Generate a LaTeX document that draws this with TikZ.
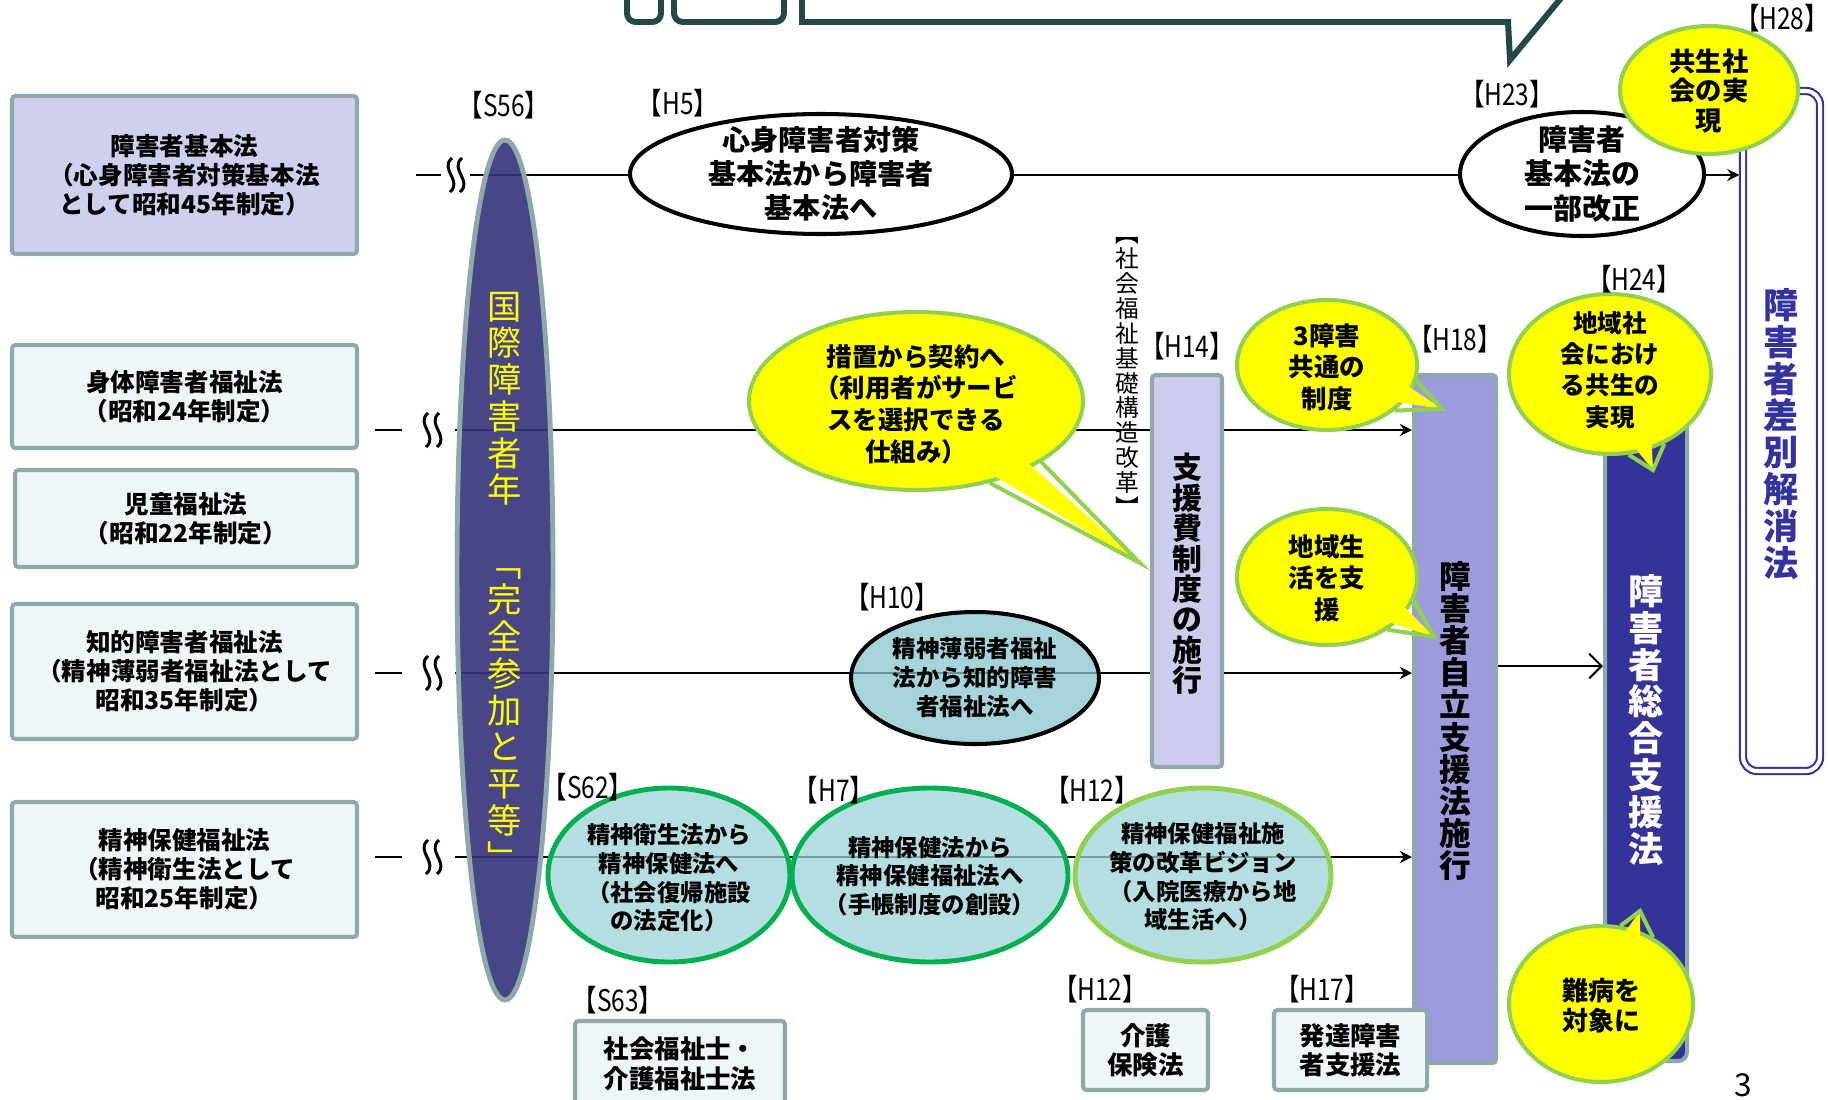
\documentclass[tikz,border=0pt]{standalone}
\usepackage{fontspec}
\setmainfont{Noto Sans CJK JP}
\newfontfamily\lblfont{Noto Sans CJK JP}[FakeStretch=0.82]
\usetikzlibrary{arrows.meta,shapes.geometric,calc}
\pgfdeclarelayer{bg}
\pgfsetlayers{bg,main}
\definecolor{bordgray}{HTML}{8FA9AA}
\definecolor{lavfill}{HTML}{D0D0EE}
\definecolor{paleblue}{HTML}{EEF6F8}
\definecolor{iypurple}{HTML}{343279}
\definecolor{hfourteen}{HTML}{CCCCEC}
\definecolor{heighteen}{HTML}{9C9CDC}
\definecolor{htwentyfour}{HTML}{333399}
\definecolor{tealfill}{HTML}{87C7CB}
\definecolor{lteal}{HTML}{9CD3D6}
\definecolor{dkgreen}{HTML}{00B050}
\definecolor{ltgreen}{HTML}{92D050}
\definecolor{bubyellow}{HTML}{FFFF00}
\definecolor{navyline}{HTML}{3333A0}
\definecolor{topteal}{HTML}{244848}
\newcommand\fsz[2]{\fontsize{#1pt}{#2pt}\selectfont}
\newcommand\wavemark[2]{\draw[line width=1.7pt] ({#1+1},{#2-17}) .. controls ({#1-12},{#2-6}) and ({#1+12},{#2+6}) .. ({#1-1},{#2+17});}
\newcommand\bubtail[4]{%
  \fill[bubyellow] ($(#1.#2)!0.25!(#1.center)$) -- (#4) -- ($(#1.#3)!0.25!(#1.center)$) -- cycle;
  \draw[tailline] (#1.#2) -- (#4) -- (#1.#3);}
\begin{document}
\begin{tikzpicture}[x=0.02cm,y=-0.02cm,
  wh/.style 2 args={minimum width={#1*0.02cm}, minimum height={#2*0.02cm}},
  lawbox/.style={draw=bordgray, line width=2.3pt, rounded corners=2pt, inner sep=0pt},
  txt/.style={align=center, inner sep=0pt, font=\bfseries\fsz{14}{16.5}},
  vt/.style={align=center, inner sep=0pt},
  oval/.style={ellipse, inner sep=0pt},
  bubble/.style={ellipse, inner sep=0pt, fill=bubyellow, draw=ltgreen, line width=2.3pt},
  lbl/.style={inner sep=0pt, font=\lblfont\fsz{17}{17}},
  conn/.style={line width=1.2pt, -{Stealth[length=7pt,width=7pt,inset=2.5pt]}},
  plain/.style={line width=1.2pt},
  tailline/.style={draw=ltgreen, line width=2.3pt, line join=miter},
  topshape/.style={draw=topteal, line width=3.4pt}
]
\useasboundingbox (0,0) rectangle (1828,1099);
\clip (0,0) rectangle (1828,1099);
\begin{pgfonlayer}{bg}
\fill[white] (0,0) rectangle (1828,1099);
\end{pgfonlayer}

% top partial shapes
\draw[topshape, rounded corners=5pt] (627,-40) rectangle (661,22);
\draw[topshape, rounded corners=5pt] (674,-40) rectangle (784,22);
\draw[topshape, line join=miter] (802,-40) -- (802,22) -- (1508,22) -- (1510,60) -- (1580,-25);

% left law boxes
\node[lawbox, fill=lavfill, wh={345}{158}, txt] (law1) at (184.5,175) {障害者基本法\\（心身障害者対策基本法\\として昭和45年制定）};
\node[lawbox, fill=paleblue, wh={345}{103}, txt] (law2) at (184.5,396.5) {身体障害者福祉法\\（昭和24年制定）};
\node[lawbox, fill=paleblue, wh={342}{97}, txt] (law3) at (186,518.5) {児童福祉法\\（昭和22年制定）};
\node[lawbox, fill=paleblue, wh={345}{135}, txt] (law4) at (184.5,671.5) {知的障害者福祉法\\（精神薄弱者福祉法として\\昭和35年制定）};
\node[lawbox, fill=paleblue, wh={345}{135}, txt] (law5) at (184.5,869.5) {精神保健福祉法\\（精神衛生法として\\昭和25年制定）};

% International year ellipse
\node[oval, draw=bordgray, line width=2.8pt, fill=iypurple, fill opacity=0.9, wh={96}{860}] (iyd) at (505,570) {};
\node[vt, text=bubyellow, font=\fsz{19.5}{20.9}] at (505,581) {国\\際\\障\\害\\者\\年\\\mbox{}\\﹁\\完\\全\\参\\加\\と\\平\\等\\﹂};

% H5 and H23 ellipses
\node[oval, draw=black, line width=2.3pt, fill=white, wh={382}{120}] (h5) at (821,174) {};
\node[txt, font=\bfseries\fsz{16}{19.3}] at (h5) {心身障害者対策\\基本法から障害者\\基本法へ};
\node[oval, draw=black, line width=2.3pt, fill=white, wh={244}{124}] (h23) at (1582,174) {};
\node[txt, font=\bfseries\fsz{16.5}{19.5}] at (h23) {障害者\\基本法の\\一部改正};

% discrimination law double box
\node[draw=navyline, double=white, double distance=2.3pt, line width=1.2pt, rounded corners=8pt, wh={77}{680}, inner sep=0pt] (dbl) at (1781.5,431) {};
\node[vt, text=navyline, font=\bfseries\fsz{20}{21}] at (1781,434) {障\\害\\者\\差\\別\\解\\消\\法};

% H14 box and vertical label
\node[lawbox, fill=hfourteen, wh={70}{392}] (h14) at (1187,571) {};
\node[vt, font=\bfseries\fsz{17}{17.3}] at (1187,574) {支\\援\\費\\制\\度\\の\\施\\行};
\node[vt, font=\fsz{13.5}{14.2}] (reform) at (1127,377) {︻\\社\\会\\福\\祉\\基\\礎\\構\\造\\改\\革\\︼};

% H18 and H24 boxes
\node[lawbox, fill=heighteen, wh={82}{688}] (h18) at (1455,719) {};
\node[vt, font=\bfseries\fsz{18}{18.3}] at (1455,721) {障\\害\\者\\自\\立\\支\\援\\法\\施\\行};
\node[lawbox, rounded corners=5pt, fill=htwentyfour, wh={82}{661}] (h24) at (1646,730.5) {};
\node[vt, text=white, font=\bfseries\fsz{20}{21}] at (1646,720) {障\\害\\者\\総\\合\\支\\援\\法};

% timeline ellipses
\node[oval, draw=black, line width=2.3pt, fill=tealfill, fill opacity=0.75, wh={248}{132}] (h10) at (975,678) {};
\node[txt, font=\bfseries\fsz{13.4}{16.5}] at (h10) {精神薄弱者福祉\\法から知的障害\\者福祉法へ};
\node[oval, draw=dkgreen, line width=2.8pt, fill=lteal, fill opacity=0.75, wh={242}{174}] (s62) at (669,875) {};
\node[txt, font=\bfseries\fsz{13.3}{16.3}] at (669,878) {精神衛生法から\\精神保健法へ\\（社会復帰施設\\の法定化）};
\node[oval, draw=dkgreen, line width=2.8pt, fill=lteal, fill opacity=0.75, wh={276}{174}] (h7) at (930,875) {};
\node[txt, font=\bfseries\fsz{13.3}{16.3}] at (930,876) {精神保健法から\\精神保健福祉法へ\\（手帳制度の創設）};
\node[oval, draw=ltgreen, line width=2.8pt, fill=lteal, fill opacity=0.75, wh={256}{174}] (h12) at (1203,875) {};
\node[txt, font=\bfseries\fsz{13.3}{16.3}] at (1203,877) {精神保健福祉施\\策の改革ビジョン\\（入院医療から地\\域生活へ）};

% bottom boxes
\node[lawbox, fill=paleblue, wh={210}{100}] (s63) at (680,1071) {};
\node[txt, font=\bfseries\fsz{14.5}{17}] at (680,1064) {社会福祉士・\\介護福祉士法};
\node[lawbox, fill=paleblue, wh={125}{80}, txt, font=\bfseries\fsz{14.5}{16.5}] (h12b) at (1145.5,1050) {介護\\保険法};
\node[lawbox, fill=paleblue, wh={153}{80}, txt, font=\bfseries\fsz{14.5}{16.5}] (h17) at (1350.5,1050) {発達障害\\者支援法};

% speech bubbles
\coordinate (t1) at (1140,563);
\coordinate (t2) at (1442,409);
\coordinate (t3) at (1434,637);
\coordinate (t4) at (1653,470);
\coordinate (t5) at (1640,911);
\node[bubble, wh={334}{178}] (c1) at (916,401) {};
\bubtail{c1}{-26}{-48}{t1}
\node[txt, font=\bfseries\fsz{14.5}{18}] at (916,404) {措置から契約へ\\（利用者がサービ\\スを選択できる\\仕組み）};
\node[bubble, wh={180}{130}] (c2) at (1327,365) {};
\bubtail{c2}{-10}{-34}{t2}
\node[txt, font=\bfseries\fsz{14.5}{18}] at (1327,367) {3障害\\共通の\\制度};
\node[bubble, wh={180}{136}] (c3) at (1327,577) {};
\bubtail{c3}{-15}{-41}{t3}
\node[txt, font=\bfseries\fsz{14.5}{18}] at (1327,578) {地域生\\活を支\\援};
\node[bubble, wh={202}{160}] (c4) at (1610,374) {};
\bubtail{c4}{-77}{-52}{t4}
\node[txt, font=\bfseries\fsz{14}{17.8}] at (1610,370) {地域社\\会におけ\\る共生の\\実現};
\node[bubble, wh={184}{156}] (c5) at (1601,1004) {};
\bubtail{c5}{76}{52}{t5}
\node[txt, font=\bfseries\fsz{14.8}{17}] at (1601,1006) {難病を\\対象に};
\node[bubble, wh={178}{128}] (c6) at (1709,90) {};
\node[txt, font=\bfseries\fsz{15}{17}] at (1709,91) {共生社\\会の実\\現};

% year labels
\node[lbl] at (504,105) {【S56】};
\node[lbl] at (678,103) {【H5】};
\node[lbl] at (1507,94) {【H23】};
\node[lbl] at (1782,18) {【H28】};
\node[lbl] at (1187,346) {【H14】};
\node[lbl] at (1455,339) {【H18】};
\node[lbl] at (1634,279) {【H24】};
\node[lbl] at (892,597) {【H10】};
\node[lbl] at (588,787) {【S62】};
\node[lbl] at (834,790) {【H7】};
\node[lbl] at (1092,790) {【H12】};
\node[lbl] at (618,1000) {【S63】};
\node[lbl] at (1100,989) {【H12】};
\node[lbl] at (1322,989) {【H17】};
\node[anchor=south, inner sep=0pt, font=\fsz{18}{18}] (pnum) at (1743,1097) {3};

% timelines (behind)
\coordinate (s1) at (470,175);
\coordinate (s2) at (455,430);
\coordinate (s3) at (455,673);
\coordinate (s4) at (455,857);
\coordinate (r3) at (1500,666);
\coordinate (d1a) at (416,175); \coordinate (d1b) at (441,175);
\coordinate (d2a) at (375,430); \coordinate (d2b) at (402,430);
\coordinate (d3a) at (375,673); \coordinate (d3b) at (402,673);
\coordinate (d4a) at (375,857); \coordinate (d4b) at (402,857);
\begin{pgfonlayer}{bg}
\draw[conn, shorten >=1.5pt] (s1) -- (dbl.west |- s1);
\draw[conn] (s2) -- (h18.west |- s2);
\draw[conn] (s3) -- (h18.west |- s3);
\draw[conn] (s4) -- (h18.west |- s4);
\draw[plain, -{Straight Barb[length=7pt,width=14pt]}] (h18.east |- r3) -- (h24.west |- r3);
\draw[plain] (d1a) -- (d1b);
\draw[plain] (d2a) -- (d2b);
\draw[plain] (d3a) -- (d3b);
\draw[plain] (d4a) -- (d4b);
\wavemark{451}{175}\wavemark{461}{175}
\wavemark{427}{430}\wavemark{438}{430}
\wavemark{427}{673}\wavemark{438}{673}
\wavemark{427}{857}\wavemark{438}{857}
\end{pgfonlayer}
\end{tikzpicture}
\end{document}
